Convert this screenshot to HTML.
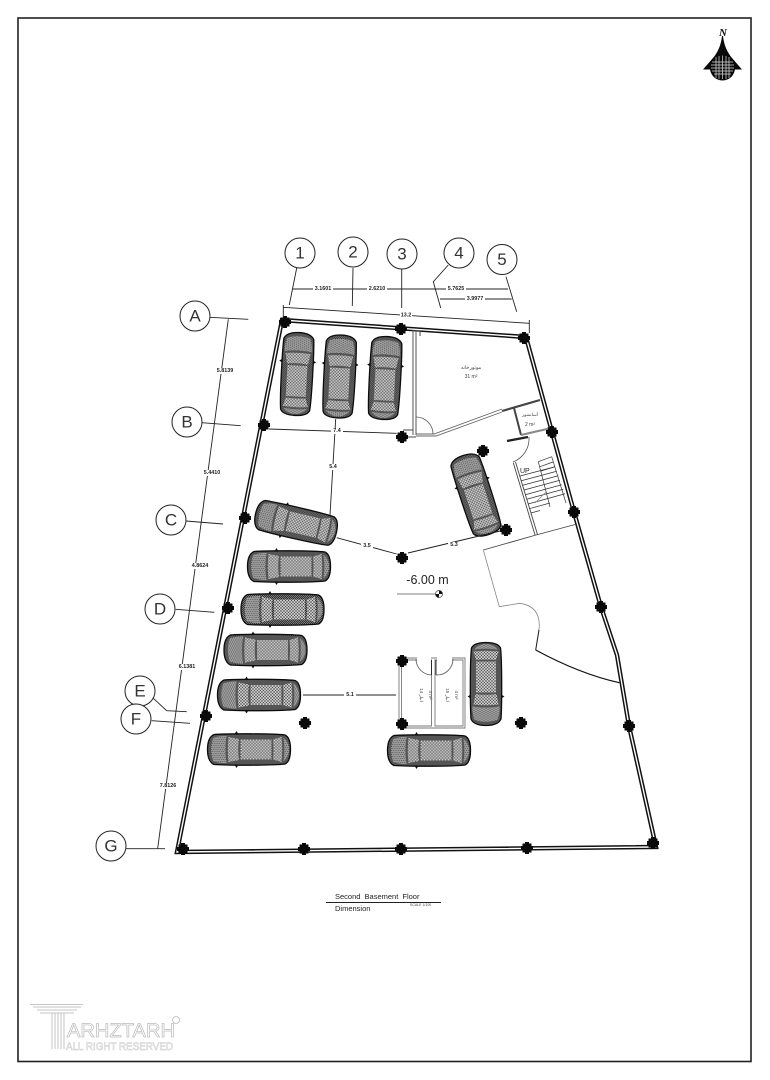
<!DOCTYPE html>
<html>
<head>
<meta charset="utf-8">
<style>
html,body{margin:0;padding:0;background:#fff}
svg{display:block}
text{font-family:"Liberation Sans","Noto Sans CJK SC",sans-serif;fill:#111}
.d{font-size:5.4px;font-weight:bold;text-anchor:middle;dominant-baseline:central;fill:#222}
.b{font-family:"Liberation Sans",sans-serif;font-size:17px;font-weight:normal;text-anchor:middle;dominant-baseline:central;fill:#333}
.s{font-size:5px;text-anchor:middle;fill:#444}
</style>
</head>
<body>
<svg width="770" height="1080" viewBox="0 0 770 1080" xmlns="http://www.w3.org/2000/svg">
<defs>
<pattern id="m1" width="4.4" height="4" patternUnits="userSpaceOnUse">
<rect width="4.4" height="4" fill="#c4c4c4"/>
<path d="M0 0L4.4 0M0 2L4.4 2M0 4L4.4 4M0 0L2.2 4L4.4 0M0 4L2.2 0L4.4 4" stroke="#333" stroke-width=".32" fill="none"/>
</pattern>
<pattern id="m2" width="3" height="3" patternUnits="userSpaceOnUse">
<rect width="3" height="3" fill="#c8c8c8"/>
<path d="M0 0L3 3M3 0L0 3" stroke="#333" stroke-width=".42" fill="none"/>
</pattern>
<pattern id="m3" width="2" height="2" patternUnits="userSpaceOnUse">
<rect width="2" height="2" fill="#777"/>
<path d="M0 0L2 2M2 0L0 2" stroke="#222" stroke-width=".4" fill="none"/>
</pattern>
<g id="car">
<path d="M-14 -15l1.500 -2.500l1.500 2.500zM-14 15l1.500 2.500l1.500 -2.500z" fill="#111" stroke="#111"/>
<path d="M-35 -15C-20 -16 24 -16 36 -14.500Q41.500 -12 41.500 0Q41.500 12 36 14.500C24 16 -20 16 -35 15Q-41.500 12 -41.500 0Q-41.500 -12 -35 -15Z" fill="url(#m3)" stroke="#0c0c0c" stroke-width="1.300"/>
<path d="M-36 -11Q-33 -13.500 -22.500 -13.500Q-24.500 0 -22.500 13.500Q-33 13.500 -36 11Q-39.500 0 -36 -11Z" fill="url(#m1)"/>
<path d="M-20.500 -12.500L-10 -10.500Q-11.500 0 -10 10.500L-20.500 12.500Q-22 0 -20.500 -12.500Z" fill="url(#m2)"/>
<rect x="-8.500" y="-10" width="31" height="20" fill="url(#m2)"/>
<path d="M24 -10L32.500 -12.500Q34 0 32.500 12.500L24 10Q25 0 24 -10Z" fill="url(#m2)"/>
<path d="M34.500 -11.500Q40 -8 40 0Q40 8 34.500 11.500Q36 0 34.500 -11.500Z" fill="url(#m1)"/>
</g>
<path id="col" d="M-4.500 -4.500H-2V-6H2V-4.500H4.500V-2H6V2H4.500V4.500H2V6H-2V4.500H-4.500V2H-6V-2H-4.500Z" fill="#0a0a0a"/>
</defs>

<rect width="770" height="1080" fill="#fff"/>
<rect x="18" y="18" width="733" height="1043.500" fill="none" stroke="#222" stroke-width="1.600"/>

<!-- north -->
<g>
<text x="723" y="36" style="font-family:'Liberation Serif',serif;font-style:italic;font-weight:bold;font-size:11px;text-anchor:middle">N</text>
<path d="M722 36C721 45 718 52 713 58L703 69.500H742L732 58C727 52 724 45 723 36Z" fill="#0a0a0a"/>
<circle cx="722.500" cy="68" r="12.500" fill="#0a0a0a"/>
<path d="M712 62H733M711 65H734M711 68H734M712 71H733M714 74H731M716 57V78M719 56V79M722.500 55.500V79M726 56V79M729 57V78" stroke="#ddd" stroke-width=".7" fill="none"/>
</g>

<!-- outer walls -->
<g fill="none" stroke-linejoin="miter">
<path d="M177 852L282 320L526 337L552 432L574 512L601 607L617 655L629 726L656 847Z" stroke="#111" stroke-width="4.400"/>
<path d="M177 852L282 320L526 337L552 432L574 512L601 607L617 655L629 726L656 847Z" stroke="#fff" stroke-width="1.400"/>
</g>

<!-- interior walls -->
<g fill="none" stroke="#444" stroke-width="1">
<path d="M413 330V435M416 330V435" stroke="#666" stroke-width="1.100"/>
<path d="M403 437H416M403 430H413M413 331H420V336"/>
<path d="M416 417A17 17 0 0 1 433 434" stroke="#555" stroke-width=".8"/>
<path d="M416 434H434L502 409M416 436H436L502 412" stroke="#666" stroke-width=".9"/>
<path d="M502 411L540 400" stroke="#444" stroke-width="2.200"/>
<path d="M514 408L521 435" stroke="#444" stroke-width="2"/>
<path d="M521 435L547 429" stroke="#888" stroke-width="2"/>
<path d="M507 441L528 437" stroke="#222" stroke-width="2.400"/>
<path d="M529 437A25 25 0 0 1 513 462" stroke="#555" stroke-width=".8"/>
<path d="M513.300 462.700L535 535M515.500 462L537.500 534.500" stroke="#444" stroke-width=".9"/>
<path d="M483.300 550L536 535L577 524" stroke="#444" stroke-width=".9"/>
<path d="M483.300 550L499.300 606.700L519.700 603.300Q540 606 539.300 626.700L535.700 650" stroke="#888" stroke-width=".8"/>
<path d="M539 630L535.700 650" stroke="#222" stroke-width="1"/>
<path d="M535.700 650Q580 674 619.300 682.700" stroke="#111" stroke-width="1.200"/>
<!-- stairs -->
<path d="M520 476L555 466.700M521.300 480.700L556.700 471.200M522.700 485.300L558.300 475.700M524 490L560 480.200M525.300 494.700L561.700 484.700M526.700 499.300L563.300 489.200M528 504L565 493.700" stroke="#333" stroke-width=".8"/>
<path d="M529.300 508.700L550 503M531 513L540 510.500" stroke="#333" stroke-width=".7"/>
<path d="M538.300 461.700L551.700 456.700M540 466.700L553 462M541 471L555 466.700" stroke="#333" stroke-width=".7"/>
<path d="M538.300 461.700L550 507M551.700 456.700L566 503" stroke="#333" stroke-width=".7"/>
<path d="M535 503L546 492" stroke="#888" stroke-width=".7"/>
<!-- store rooms -->
<path d="M399 658H465V728H399ZM401.500 660H431.500V726H401.500ZM435 660H463V726H435Z" stroke="#777" stroke-width=".9"/>
<path d="M416 659A16 16 0 0 0 431.500 675M453 659A16 16 0 0 1 436 675" stroke="#555" stroke-width=".8"/>
<path d="M431.500 660V675M436 660V675" stroke="#222" stroke-width=".9"/>
</g>
<rect x="417" y="657" width="14" height="4" fill="#fff"/>
<rect x="437" y="657" width="15" height="4" fill="#fff"/>

<!-- columns -->
<g>
<use href="#col" x="285" y="322"/><use href="#col" x="401" y="329"/><use href="#col" x="524" y="338"/>
<use href="#col" x="264" y="425"/><use href="#col" x="402" y="437"/><use href="#col" x="552" y="432"/>
<use href="#col" x="245" y="518"/><use href="#col" x="402" y="558"/><use href="#col" x="574" y="512"/>
<use href="#col" x="483" y="451"/><use href="#col" x="506" y="530"/><use href="#col" x="228" y="608"/>
<use href="#col" x="601" y="607"/><use href="#col" x="206" y="716"/><use href="#col" x="305" y="723"/>
<use href="#col" x="402" y="661"/><use href="#col" x="402" y="724"/><use href="#col" x="521" y="723"/>
<use href="#col" x="629" y="726"/><use href="#col" x="183" y="849"/><use href="#col" x="304" y="849"/>
<use href="#col" x="401" y="849"/><use href="#col" x="527" y="848"/><use href="#col" x="653" y="843"/>
</g>

<!-- cars -->
<use href="#car" transform="translate(297 374) rotate(93)"/>
<use href="#car" transform="translate(339.500 376.500) rotate(93)"/>
<use href="#car" transform="translate(385 378) rotate(93)"/>
<use href="#car" transform="translate(476 495) rotate(72)"/>
<use href="#car" transform="translate(296 523) rotate(13)"/>
<use href="#car" transform="translate(289 566.500)"/>
<use href="#car" transform="translate(282.500 609.500)"/>
<use href="#car" transform="translate(265.500 650)"/>
<use href="#car" transform="translate(259 695)"/>
<use href="#car" transform="translate(249 749.500)"/>
<use href="#car" transform="translate(429 750.500)"/>
<use href="#car" transform="translate(486 684) rotate(-90)"/>

<!-- dimension & leader lines -->
<g fill="none" stroke="#222" stroke-width=".9">
<path d="M296.700 268L289.300 305M353 268L352.300 306M401.700 268V308M448.300 265L433.300 281.700L440.700 308M506 276.700L516.700 311.700"/>
<path d="M293 289H508M440 299H511.700"/>
<path d="M283.300 307.300L529.300 323.300M283.300 305V317M529.300 320V333"/>
<path d="M209.300 317.300L248.300 319.300M201.700 422.700L240.700 425.700M186 521L223 524M175.700 609.300L214.300 612.300M153.300 698.300L166.700 710.700L186.700 711.700M151.700 720.700L190 723.300M126 848.700H165"/>
<path d="M228.300 319.300L157.700 848.300"/>
<path d="M269 429L396.700 433.300M335.700 419L330 515M336.700 537.700L396.700 554M408 553L500 531M303 695H396"/>
</g>
<g fill="#fff" stroke="#222" stroke-width="1">
<circle cx="300" cy="253" r="15"/><circle cx="353" cy="252" r="15"/><circle cx="402" cy="254" r="15"/>
<circle cx="459" cy="253" r="15"/><circle cx="502" cy="259.500" r="15"/>
<circle cx="195" cy="316" r="15"/><circle cx="187" cy="422" r="15"/><circle cx="171" cy="520" r="15"/>
<circle cx="160" cy="609" r="15"/><circle cx="140" cy="691" r="15"/><circle cx="136" cy="719" r="15"/>
<circle cx="111" cy="846" r="15"/>
</g>
<g>
<text class="b" x="300" y="253">1</text><text class="b" x="353" y="252">2</text><text class="b" x="402" y="254">3</text>
<text class="b" x="459" y="253">4</text><text class="b" x="502" y="259.500">5</text>
<text class="b" x="195" y="316">A</text><text class="b" x="187" y="422">B</text><text class="b" x="171" y="520">C</text>
<text class="b" x="160" y="609">D</text><text class="b" x="140" y="691">E</text><text class="b" x="136" y="719">F</text>
<text class="b" x="111" y="846">G</text>
</g>

<!-- dimension labels -->
<g fill="#fff">
<rect x="313" y="286" width="20" height="6"/><rect x="367" y="286" width="20" height="6"/><rect x="446" y="286" width="20" height="6"/>
<rect x="465" y="296" width="20" height="6"/><rect x="400" y="312" width="12" height="7"/>
<rect x="215" y="368" width="20" height="6"/><rect x="203" y="470" width="20" height="6"/><rect x="190" y="563" width="20" height="6"/>
<rect x="177" y="664" width="20" height="6"/><rect x="158" y="783" width="20" height="6"/>
<rect x="331" y="428" width="12" height="6"/><rect x="328" y="464" width="11" height="6"/><rect x="361" y="543" width="12" height="6"/>
<rect x="448" y="542" width="12" height="6"/><rect x="344" y="692" width="12" height="6"/>
</g>
<g>
<text class="d" x="323" y="289">3.1601</text><text class="d" x="377" y="289">2.6210</text><text class="d" x="456" y="289">5.7625</text>
<text class="d" x="475" y="299">3.9977</text><text class="d" x="406" y="315.500">13.2</text>
<text class="d" x="225" y="371">5.8139</text><text class="d" x="212" y="473">5.4410</text><text class="d" x="200" y="566">4.8624</text>
<text class="d" x="187" y="667">6.1381</text><text class="d" x="168" y="786">7.8126</text>
<text class="d" x="337" y="431">7.4</text><text class="d" x="333" y="467">5.4</text><text class="d" x="367" y="546">3.5</text>
<text class="d" x="454" y="545">5.3</text><text class="d" x="350" y="695">5.1</text>
</g>

<!-- room labels -->
<text class="s" x="471" y="369" direction="rtl">موتورخانه</text>
<text class="s" x="471" y="378">31 m²</text>
<text class="s" x="530" y="416" direction="rtl" style="font-size:4.500px">آسانسور</text>
<text class="s" x="530" y="426">2 m²</text>
<text x="520" y="473" style="font-size:7px;fill:#222">UP</text>
<text class="s" transform="translate(420 695) rotate(90)" style="font-size:4.500px">انبار 14</text>
<text class="s" transform="translate(429 695) rotate(90)" style="font-size:4.500px">4 m²</text>
<text class="s" transform="translate(446 695) rotate(90)" style="font-size:4.500px">انبار 15</text>
<text class="s" transform="translate(455 695) rotate(90)" style="font-size:4.500px">4 m²</text>

<!-- level -->
<text x="427.500" y="584" style="font-size:12.500px;text-anchor:middle;fill:#222">-6.00 m</text>
<path d="M397 594H436" stroke="#555" stroke-width=".7"/>
<circle cx="439" cy="594" r="3.500" fill="#fff" stroke="#444" stroke-width=".7"/>
<path d="M439 590.500A3.500 3.500 0 0 1 442.500 594H439ZM439 597.500A3.500 3.500 0 0 1 435.500 594H439Z" fill="#111"/>

<!-- title -->
<text x="335" y="899" style="font-size:7.500px;fill:#222;word-spacing:2px">Second Basement Floor</text>
<path d="M326 902.500H441" stroke="#222" stroke-width="1"/>
<text x="335" y="911" style="font-size:7.500px;fill:#222">Dimension</text>
<text x="410" y="906" style="font-size:3.500px;fill:#444">SCALE 1/100</text>

<!-- logo -->
<g fill="none" stroke="#c6c6c6" stroke-width="1">
<path d="M30 1004.500H83M33 1007H81M37 1010H77M40 1013H74"/>
<path d="M52 1013V1049M55 1013V1049M58 1013V1049M61 1013V1049M64 1013V1049"/>
<circle cx="176" cy="1020" r="3.500"/>
</g>
<text x="67" y="1037" style="font-size:19px;fill:#fff;stroke:#bdbdbd;stroke-width:.7" textLength="108" lengthAdjust="spacingAndGlyphs">ARHZTARH</text>
<text x="66" y="1050" style="font-size:11px;fill:#fff;stroke:#c6c6c6;stroke-width:.5" textLength="107" lengthAdjust="spacingAndGlyphs">ALL RIGHT RESERVED</text>
</svg>
</body>
</html>
